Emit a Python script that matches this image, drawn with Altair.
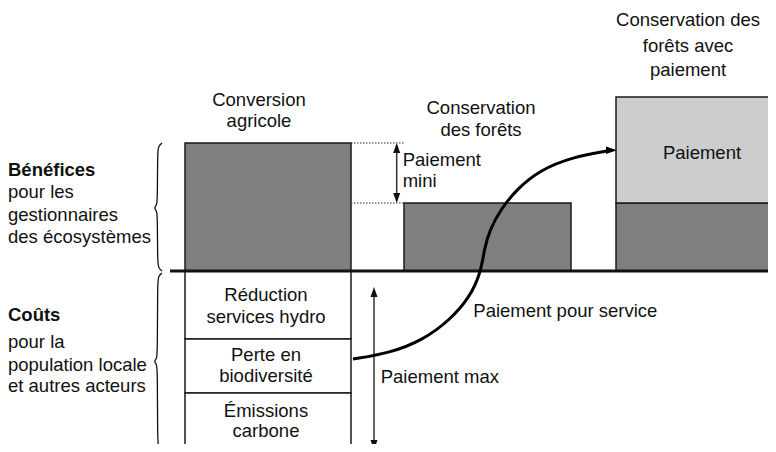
import altair as alt
import pandas as pd

# ---------------- data ----------------
scenarios = ["Conversion agricole", "Conservation des forêts",
             "Conservation des forêts avec paiement"]
scenario_benefit = [128, 68, 68]      # benefit to ecosystem managers (above baseline)
scenario_payment = [0, 0, 106]        # payment stacked on top of the benefit
cost_items = ["Réduction services hydro", "Perte en biodiversité", "Émissions carbone"]
cost_values = [68, 54, 62]            # costs to local population (below baseline)

title_lines = [["Conversion", "agricole"],
               ["Conservation", "des forêts"],
               ["Conservation des", "forêts avec", "paiement"]]
cost_lines = [["Réduction", "services hydro"],
              ["Perte en", "biodiversité"],
              ["Émissions", "carbone"]]

# ---------------- layout (page pixels) ----------------
BASE = 271
scen_left = [185, 404, 616]
scen_right = [351, 571, 790]
title_x = [259, 481, 688]
title_y = [[105.7, 126.7], [114, 136], [26, 51.7, 76]]
cost_text_x = 266
cost_text_y = [[301, 323.3], [360.7, 381.7], [416.7, 436.7]]

FONT = "Liberation Sans"
FS = 18.5
DARK = "#7f7f7f"
LIGHT = "#cdcdcd"
INK = "#111111"


def Y(p):
    return BASE - p


xs = alt.Scale(domain=[8, 768])
ys = alt.Scale(domain=[Y(444), Y(8)])


def X_(f):
    return alt.X(f, type="quantitative", scale=xs, axis=None)


def Y_(f):
    return alt.Y(f, type="quantitative", scale=ys, axis=None)


# bars (benefits and payment)
rows = []
for i, s in enumerate(scenarios):
    rows.append(dict(x=scen_left[i], x2=scen_right[i], y=0, y2=scenario_benefit[i], c=DARK))
    if scenario_payment[i] > 0:
        rows.append(dict(x=scen_left[i], x2=scen_right[i], y=scenario_benefit[i],
                         y2=scenario_benefit[i] + scenario_payment[i], c=LIGHT))
# cost boxes
cum = 0
for i, c in enumerate(cost_items):
    rows.append(dict(x=scen_left[0], x2=scen_right[0], y=-cum, y2=-(cum + cost_values[i]), c="white"))
    cum += cost_values[i]
bars_df = pd.DataFrame(rows)

bars = alt.Chart(bars_df).mark_rect(stroke="#1a1a1a", strokeWidth=1.5, clip=True).encode(
    x=X_("x"), x2="x2", y=Y_("y"), y2="y2", color=alt.Color("c:N", scale=None))

# baseline
base_df = pd.DataFrame({"x": [170], "x2": [790], "y": [0]})
baseline = alt.Chart(base_df).mark_rule(strokeWidth=3, color="#111", clip=True).encode(
    x=X_("x"), x2="x2", y=Y_("y"))

# dotted guides for "Paiement mini"
dot_df = pd.DataFrame({"x": [scen_right[0], scen_right[0]], "x2": [405, scen_left[1]],
                       "y": [scenario_benefit[0], scenario_benefit[1]]})
dots = alt.Chart(dot_df).mark_rule(strokeWidth=1.2, strokeDash=[1.5, 1.5], color="#333").encode(
    x=X_("x"), x2="x2", y=Y_("y"))

# vertical arrows
varr_df = pd.DataFrame({"x": [396.7, 374], "y": [scenario_benefit[0] - 2, Y(290)],
                        "y2": [scenario_benefit[1] + 2, Y(447)]})
varr = alt.Chart(varr_df).mark_rule(strokeWidth=1.5, color="#333", clip=True).encode(
    x=X_("x"), y=Y_("y"), y2="y2")

up_df = pd.DataFrame({"x": [396.7, 374], "y": [scenario_benefit[0], Y(287)]})
down_df = pd.DataFrame({"x": [396.7, 374], "y": [scenario_benefit[1], Y(450)]})
up_heads = alt.Chart(up_df).mark_point(shape="M0,0L-0.7,2L0.7,2Z", size=100, filled=True,
                                       opacity=1, color="#111", clip=True).encode(x=X_("x"), y=Y_("y"))
down_heads = alt.Chart(down_df).mark_point(shape="M0,0L-0.7,-2L0.7,-2Z", size=100, filled=True,
                                           opacity=1, color="#111", clip=True).encode(x=X_("x"), y=Y_("y"))

# "Paiement pour service" curve
curve_x = [353, 390, 423, 450, 470, 481, 484, 490, 501, 517, 540, 573, 607]
curve_yp = [359, 353, 340, 320, 297, 272, 250, 229, 209, 189, 170, 157, 151]
curve_df = pd.DataFrame({"x": curve_x, "y": [Y(v) for v in curve_yp],
                         "o": list(range(len(curve_x)))})
curve = alt.Chart(curve_df).mark_line(interpolate="basis", strokeWidth=3, color="#000").encode(
    x=X_("x"), y=Y_("y"), order="o:Q")
tip_df = pd.DataFrame({"x": [617], "y": [Y(150.3)]})
tip = alt.Chart(tip_df).mark_point(shape="M0,0L-2.2,-0.75L-2.2,0.75Z", size=100, filled=True,
                                   opacity=1, color="#000").encode(x=X_("x"), y=Y_("y"))

# braces
brace_x = [162, 158.5, 157.5, 157.5, 156.5, 154, 156.5, 157.5, 157.5, 158.5, 162]
brace1_yp = [143, 146, 152, 200, 205.5, 208, 210.5, 216, 262, 268, 271]
brace2_yp = [273, 276, 282, 354, 359, 361.5, 364, 369, 442, 447, 450]
br_rows = []
for b, yy in enumerate([brace1_yp, brace2_yp]):
    for k, (bx, by) in enumerate(zip(brace_x, yy)):
        br_rows.append(dict(x=bx, y=Y(by), o=k, b=b))
brace_df = pd.DataFrame(br_rows)
braces = alt.Chart(brace_df).mark_line(interpolate="basis", strokeWidth=1.3, color="#111",
                                       clip=True).encode(
    x=X_("x"), y=Y_("y"), order="o:Q", detail="b:N")

# texts
center_rows = []
for i, lines in enumerate(title_lines):
    for ln, ty in zip(lines, title_y[i]):
        center_rows.append(dict(x=title_x[i], y=Y(ty), t=ln))
for i, lines in enumerate(cost_lines):
    for ln, ty in zip(lines, cost_text_y[i]):
        center_rows.append(dict(x=cost_text_x, y=Y(ty), t=ln))
center_rows.append(dict(x=702, y=Y(159.3), t="Paiement"))
center_df = pd.DataFrame(center_rows)

left_df = pd.DataFrame([
    dict(x=402.7, y=Y(166), t="Paiement"),
    dict(x=402.7, y=Y(186.7), t="mini"),
    dict(x=473.3, y=Y(316.7), t="Paiement pour service"),
    dict(x=380.7, y=Y(383.3), t="Paiement max"),
    dict(x=8, y=Y(198.3), t="pour les"),
    dict(x=8, y=Y(220.7), t="gestionnaires"),
    dict(x=8, y=Y(243.3), t="des écosystèmes"),
    dict(x=8, y=Y(348.3), t="pour la"),
    dict(x=8, y=Y(370.7), t="population locale"),
    dict(x=8, y=Y(392.3), t="et autres acteurs"),
])
bold_df = pd.DataFrame([
    dict(x=8, y=Y(175.7), t="Bénéfices"),
    dict(x=8, y=Y(320.7), t="Coûts"),
])

ctext = alt.Chart(center_df).mark_text(font=FONT, fontSize=FS, align="center",
                                       baseline="alphabetic", color=INK).encode(
    x=X_("x"), y=Y_("y"), text="t:N")
ltext = alt.Chart(left_df).mark_text(font=FONT, fontSize=FS, align="left",
                                     baseline="alphabetic", color=INK).encode(
    x=X_("x"), y=Y_("y"), text="t:N")
btext = alt.Chart(bold_df).mark_text(font=FONT, fontSize=FS, fontWeight="bold", align="left",
                                     baseline="alphabetic", color=INK).encode(
    x=X_("x"), y=Y_("y"), text="t:N")

chart = alt.layer(bars, dots, baseline, varr, up_heads, down_heads, braces, curve, tip,
                  ctext, ltext, btext).properties(
    width=760, height=436, padding=0, autosize=alt.AutoSizeParams(type="none"),
    background="white"
).configure_view(stroke=None)

chart.save("out.html", embed_options={"renderer": "svg", "actions": False})
